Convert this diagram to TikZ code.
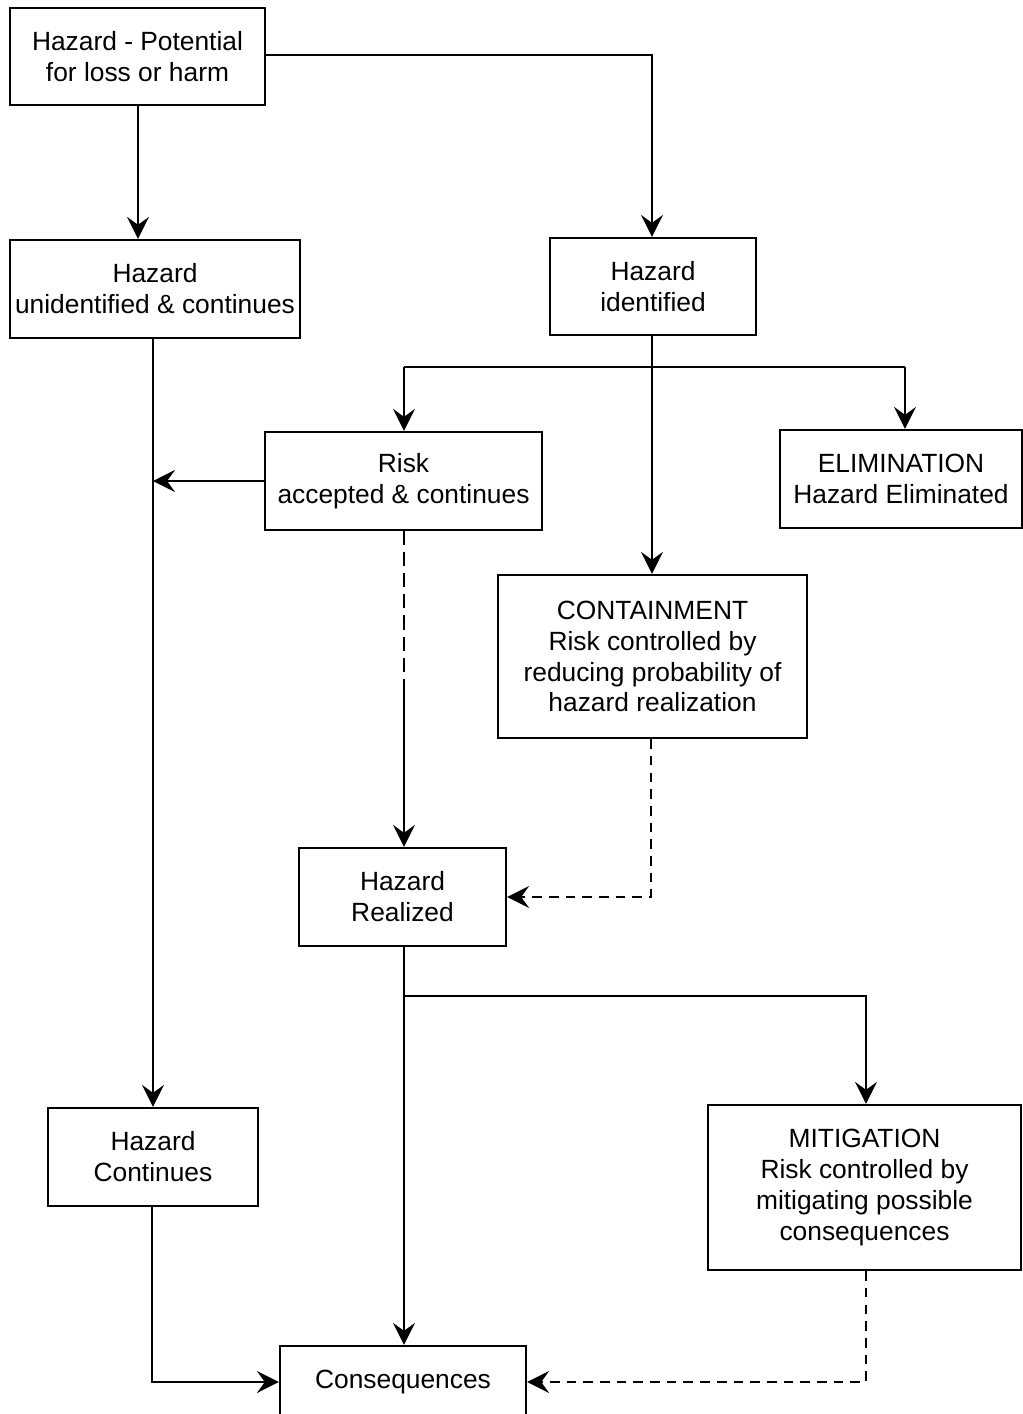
\documentclass[tikz,border=0pt]{standalone}
\usepackage{fontspec}
\setmainfont{Liberation Sans}
\usetikzlibrary{arrows.meta, positioning}

\begin{document}
\begin{tikzpicture}[
  x=0.02cm, y=-0.02cm, font={\fontsize{15}{17.6}\selectfont},
  box/.style={draw, line width=1.3pt, inner sep=0pt, minimum height=1.96cm, align=center},
  link/.style={line width=1.3pt},
  arr/.style={-{Stealth[length=12.5pt, width=12.5pt, inset=4.5pt]}, line width=1.3pt},
  darr/.style={arr, dash pattern=on 5.5pt off 4pt}
]
  \useasboundingbox (0,0) rectangle (1023,1414);
  \node[box, minimum width=5.1cm, minimum height=1.94cm] (haz) at (137.5,56.5) {Hazard - Potential\\for loss or harm};
  \node[box, minimum width=5.8cm]  (unid)  at (155,289)   {Hazard\\unidentified \& continues};
  \node[box, minimum width=4.12cm, minimum height=1.94cm] (ident) at (653,286.5) {Hazard\\identified};
  \node[box, minimum width=5.54cm] (risk)  at (403.5,481) {Risk\\accepted \& continues};
  \node[box, minimum width=4.84cm] (elim)  at (901,479)   {ELIMINATION\\Hazard Eliminated};
  \node[box, minimum width=6.18cm, minimum height=3.26cm] (cont) at (652.5,656.5) {CONTAINMENT\\Risk controlled by\\reducing probability of\\hazard realization};
  \node[box, minimum width=4.14cm] (real)  at (402.5,897) {Hazard\\Realized};
  \node[box, minimum width=4.2cm]  (hcont) at (153,1157)  {Hazard\\Continues};
  \node[box, minimum width=6.26cm, minimum height=3.3cm] (mitig) at (864.5,1187.5) {MITIGATION\\Risk controlled by\\mitigating possible\\consequences};
  \node[box, minimum width=4.92cm, minimum height=1.44cm] (cons) at (403,1382) {Consequences};

  % split points
  \coordinate (split) at (652,367);
  \coordinate (rmid) at (404,690);
  \coordinate (split2) at (404,996);

  \draw[arr] (haz.south -| 138,0) -- (unid.north -| 138,0);
  \draw[arr] (haz.east |- 0,55) -| (ident.north -| split);
  \draw[arr] (ident.south -| split) -- (cont.north -| split);
  \draw[link] (rmid |- split) -- (905,367);
  \draw[arr] (rmid |- split) -- (risk.north -| rmid);
  \draw[arr] (905,367) -- (elim.north -| 905,0);
  \draw[arr] (unid.south -| 153,0) -- (hcont.north -| 153,0);
  \draw[arr] (risk.west) -- (153,481);
  \draw[link, dash pattern=on 8pt off 4pt] (risk.south -| rmid) -- (rmid);
  \draw[arr] (rmid) -- (real.north -| rmid);
  \draw[darr] (cont.south -| 651,0) |- (real.east);
  \draw[arr] (real.south -| split2) -- (cons.north -| split2);
  \draw[arr] (split2) -| (mitig.north -| 866,0);
  \draw[arr] (hcont.south -| 152,0) |- (cons.west);
  \draw[darr] (mitig.south -| 866,0) |- (cons.east);
\end{tikzpicture}
\end{document}
